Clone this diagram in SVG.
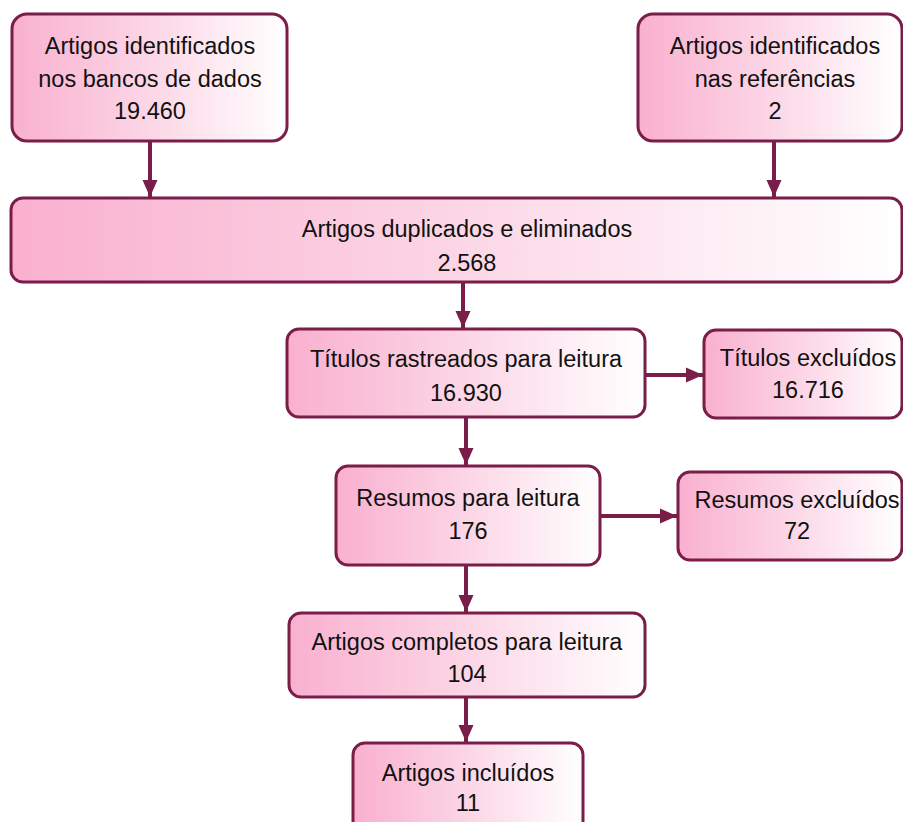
<svg xmlns="http://www.w3.org/2000/svg" width="903" height="822" viewBox="0 0 903 822">
<defs>
<linearGradient id="g" x1="0" y1="0" x2="1" y2="0">
<stop offset="0" stop-color="#f9b0cf"/>
<stop offset="0.5" stop-color="#fcd6e6"/>
<stop offset="1" stop-color="#ffffff"/>
</linearGradient>
<marker id="ah" markerUnits="userSpaceOnUse" markerWidth="18" markerHeight="18" viewBox="0 0 18 18" refX="17" refY="9" orient="auto">
<path d="M0,1.5 L17,9 L0,16.5 Z" fill="#7a1d48"/>
</marker>
<style>
.box{fill:url(#g);stroke:#7a1d48;stroke-width:3}
.t{font-family:"Liberation Sans",Arial,sans-serif;font-size:23.5px;fill:#111;text-anchor:middle}
.c{stroke:#7a1d48;stroke-width:4;fill:none;marker-end:url(#ah)}
</style>
</defs>
<rect width="903" height="822" fill="#fff"/>
<g id="connectors">
<line class="c" x1="150" y1="142" x2="150" y2="197"/>
<line class="c" x1="774" y1="142" x2="774" y2="197"/>
<line class="c" x1="463" y1="282" x2="463" y2="328"/>
<line class="c" x1="645" y1="375" x2="703" y2="375"/>
<line class="c" x1="466" y1="418" x2="466" y2="465"/>
<line class="c" x1="600" y1="516" x2="677" y2="516"/>
<line class="c" x1="466" y1="565" x2="466" y2="612"/>
<line class="c" x1="466" y1="697" x2="466" y2="742"/>
</g>
<g id="n1"><rect class="box" x="12" y="14" width="275" height="127" rx="15"/>
<text class="t" x="150" y="54">Artigos identificados</text>
<text class="t" x="150" y="87">nos bancos de dados</text>
<text class="t" x="150" y="119">19.460</text></g>
<g id="n2"><rect class="box" x="638" y="14" width="264" height="127" rx="15"/>
<text class="t" x="775" y="54">Artigos identificados</text>
<text class="t" x="775" y="87">nas referências</text>
<text class="t" x="775" y="119">2</text></g>
<g id="n3"><rect class="box" x="11" y="198" width="891" height="84" rx="12"/>
<text class="t" x="467" y="237">Artigos duplicados e eliminados</text>
<text class="t" x="467" y="271">2.568</text></g>
<g id="n4"><rect class="box" x="287" y="329" width="358" height="88" rx="12"/>
<text class="t" x="466" y="367">Títulos rastreados para leitura</text>
<text class="t" x="466" y="401">16.930</text></g>
<g id="n5"><rect class="box" x="704" y="330" width="198" height="88" rx="12"/>
<text class="t" x="808" y="366">Títulos excluídos</text>
<text class="t" x="808" y="398">16.716</text></g>
<g id="n6"><rect class="box" x="336" y="466" width="264" height="99" rx="12"/>
<text class="t" x="468" y="506">Resumos para leitura</text>
<text class="t" x="468" y="539">176</text></g>
<g id="n7"><rect class="box" x="678" y="472" width="224" height="88" rx="12"/>
<text class="t" x="797" y="508">Resumos excluídos</text>
<text class="t" x="797" y="539">72</text></g>
<g id="n8"><rect class="box" x="289" y="613" width="356" height="84" rx="12"/>
<text class="t" x="467" y="650">Artigos completos para leitura</text>
<text class="t" x="467" y="682">104</text></g>
<g id="n9"><rect class="box" x="353" y="743" width="230" height="90" rx="12"/>
<text class="t" x="468" y="781">Artigos incluídos</text>
<text class="t" x="468" y="811">11</text></g>
</svg>
